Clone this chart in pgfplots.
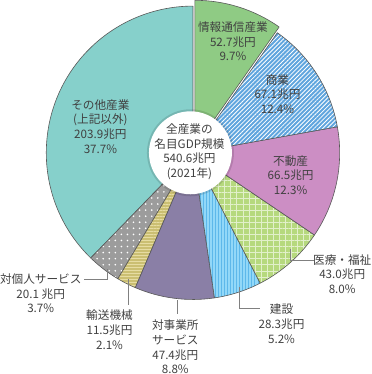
\documentclass[border=0pt]{standalone}
\usepackage{pgfplots}
\pgfplotsset{compat=1.18}
\usetikzlibrary{patterns.meta}
\usepackage{fontspec}
\setmainfont{Noto Sans CJK JP}
\definecolor{cJoho}{HTML}{8FCB84}
\definecolor{cShogyo}{HTML}{5FA5DE}
\definecolor{cFudosan}{HTML}{CC8EC4}
\definecolor{cIryo}{HTML}{B6D97E}
\definecolor{cKensetsu}{HTML}{92D8F8}
\definecolor{cKensetsuL}{HTML}{5DB8EA}
\definecolor{cTaijigyo}{HTML}{8A7FA6}
\definecolor{cYuso}{HTML}{CBBF72}
\definecolor{cYusoL}{HTML}{E6DCA2}
\definecolor{cTaikojin}{HTML}{9C9C9C}
\definecolor{cSonota}{HTML}{86D0CB}
\definecolor{txt}{HTML}{404040}
\definecolor{lead}{HTML}{808080}
\tikzset{
  lbl/.style={align=center, font=\fontsize{11.5}{14.5}\selectfont, inner sep=0pt, text=txt},
  slice line/.style={draw=black!65, line width=0.6pt, line join=round},
}
% #1 start angle, #2 end angle, #3 base fill options, #4 pattern options
\newcommand{\pieslice}[4]{%
  \fill[#3] (axis cs:193.5,219) -- ++(#1:145pt) arc[start angle=#1,end angle=#2,radius=145pt] -- cycle;
  \fill[#4] (axis cs:193.5,219) -- ++(#1:145pt) arc[start angle=#1,end angle=#2,radius=145pt] -- cycle;
  \draw[slice line] (axis cs:193.5,219) -- ++(#1:145pt) arc[start angle=#1,end angle=#2,radius=145pt] -- cycle;
}
\begin{document}
\begin{tikzpicture}
% values in trillion yen (兆円), clockwise from the top
\def\vA{52.7}\def\vB{67.1}\def\vC{66.5}\def\vD{43.0}\def\vE{28.3}
\def\vF{47.4}\def\vG{11.5}\def\vH{20.1}\def\vI{203.9}
\pgfmathsetmacro\tot{\vA+\vB+\vC+\vD+\vE+\vF+\vG+\vH+\vI}
\pgfmathsetmacro\aO{90}
\pgfmathsetmacro\aA{\aO-360*(\vA/\tot)}
\pgfmathsetmacro\aB{\aA-360*(\vB/\tot)}
\pgfmathsetmacro\aC{\aB-360*(\vC/\tot)}
\pgfmathsetmacro\aD{\aC-360*(\vD/\tot)}
\pgfmathsetmacro\aE{\aD-360*(\vE/\tot)}
\pgfmathsetmacro\aF{\aE-360*(\vF/\tot)}
\pgfmathsetmacro\aG{\aF-360*(\vG/\tot)}
\pgfmathsetmacro\aH{\aG-360*(\vH/\tot)}
\pgfmathsetmacro\aI{-270}
\pgfmathsetmacro\aMid{(\aO+\aA)/2}
\begin{axis}[x=1pt,y=1pt,xmin=0,xmax=374,ymin=0,ymax=371,hide axis,clip=false]
% その他
\pieslice{\aH}{\aI}{cSonota}{fill opacity=0}
% 対個人サービス
\pieslice{\aG}{\aH}{cTaikojin}{pattern={Dots[radius=0.9pt,distance=6pt]},pattern color=white}
% 輸送機械
\pieslice{\aF}{\aG}{cYuso}{pattern={Lines[angle=0,distance=3pt,line width=1pt]},pattern color=cYusoL}
% 対事業所サービス
\pieslice{\aE}{\aF}{cTaijigyo}{fill opacity=0}
% 建設
\pieslice{\aD}{\aE}{cKensetsu}{pattern={Lines[angle=90,distance=3pt,line width=0.9pt]},pattern color=cKensetsuL}
% 医療・福祉
\pieslice{\aC}{\aD}{cIryo}{pattern={Hatch[angle=0,distance=6pt,line width=0.5pt]},pattern color=white!60!cIryo}
% 不動産
\pieslice{\aB}{\aC}{cFudosan}{fill opacity=0}
% 商業
\pieslice{\aA}{\aB}{cShogyo}{pattern={Lines[angle=45,distance=3pt,line width=0.8pt]},pattern color=white}
% 情報通信産業 (exploded)
\begin{scope}[shift={(\aMid:6pt)}]
\pieslice{\aO}{\aA}{cJoho}{fill opacity=0}
\end{scope}
% centre disc
\fill[black,opacity=0.12] (axis cs:191,219) circle[radius=43pt];
\fill[white] (axis cs:191,219) circle[radius=41pt];
\node[lbl] at (axis cs:190,220) {全産業の\\名目GDP規模\\540.6兆円\\(2021年)};
% labels inside slices
\node[lbl] at (axis cs:233,329) {情報通信産業\\52.7兆円\\9.7\%};
\node[lbl] at (axis cs:277,277) {商業\\67.1兆円\\12.4\%};
\node[lbl] at (axis cs:290,197) {不動産\\66.5兆円\\12.3\%};
\node[lbl] at (axis cs:102,245) {その他産業\\(上記以外)\\203.9兆円\\37.7\%};
% leader lines
\draw[lead,line width=0.8pt] (axis cs:290,124) -- (axis cs:290,113) -- (axis cs:313,113);
\draw[lead,line width=0.8pt] (axis cs:239,86) -- (axis cs:239,65) -- (axis cs:260,65);
\draw[lead,line width=0.8pt] (axis cs:178,73) -- (axis cs:178,60);
\draw[lead,line width=0.8pt] (axis cs:130,94) -- (axis cs:130,69);
\draw[lead,line width=0.8pt] (axis cs:109,104) -- (axis cs:109,94) -- (axis cs:86,94);
% outside labels
\node[lbl] at (axis cs:341,99) {医療・福祉\\43.0兆円\\8.0\%};
\node[lbl] at (axis cs:281,50) {建設\\28.3兆円\\5.2\%};
\node[lbl] at (axis cs:176,27) {対事業所\\サービス\\47.4兆円\\8.8\%};
\node[lbl] at (axis cs:111,44) {輸送機械\\11.5兆円\\2.1\%};
\node[lbl] at (axis cs:43,80) {対個人サービス\\20.1 兆円\\3.7\%};
\end{axis}
\end{tikzpicture}
\end{document}
